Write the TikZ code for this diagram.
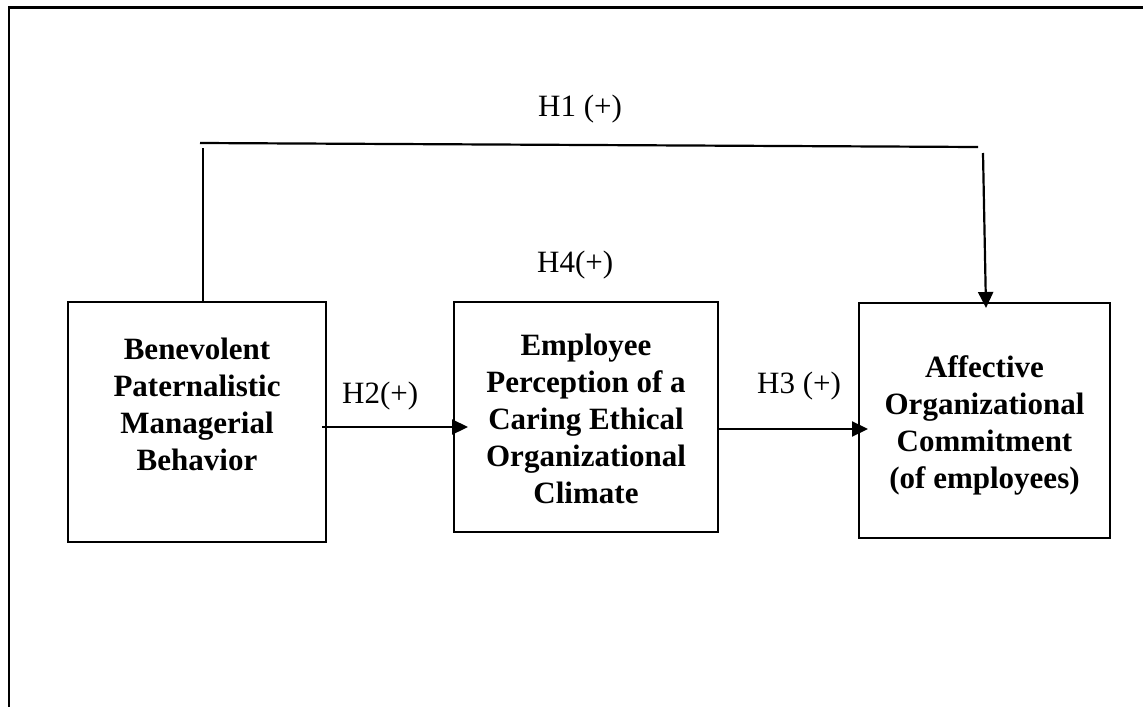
\documentclass[tikz,border=0pt]{standalone}
\usepackage{fontspec}
\setmainfont{Liberation Serif}
\usetikzlibrary{arrows.meta}
\begin{document}
\begin{tikzpicture}[x=1pt,y=-1pt,
  boxstyle/.style={draw=black,line width=2.2pt,inner sep=0pt},
  boxtext/.style={anchor=north,inner sep=0pt,align=center,font=\fontsize{31}{37}\selectfont\bfseries},
  hyplabel/.style={anchor=base west,inner sep=0pt,font=\fontsize{31}{37}\selectfont},
  conn/.style={line width=2.2pt},
  arr/.style={line width=2.2pt,-{Triangle[length=16pt,width=15pt]}}]
\useasboundingbox (0,0) rectangle (1143,707);
% outer frame (top and left only)
\coordinate (ftl) at (8.7,7.5);
\coordinate (ftr) at (1143,7.5);
\coordinate (fbl) at (8.7,707);
\draw[line width=2.4pt] (ftr) -- (ftl) -- (fbl);
% boxes
\node[boxstyle,minimum width=258pt,minimum height=240pt] (bpm) at (197,422) {};
\node[boxstyle,minimum width=264pt,minimum height=230pt] (epc) at (586,417) {};
\node[boxstyle,minimum width=251pt,minimum height=235pt] (aoc) at (984.5,420.5) {};
% box texts
\node[boxtext] (bpmt) at (197,333.1) {\strut Benevolent\\Paternalistic\\Managerial\\Behavior};
\node[boxtext] (epct) at (586,329.1) {\strut Employee\\Perception of a\\Caring Ethical\\Organizational\\Climate};
\node[boxtext] (aoct) at (984.5,351.1) {\strut Affective\\Organizational\\Commitment\\(of employees)};
% labels
\node[hyplabel] (h1) at (538,116) {H1 (+)};
\node[hyplabel] (h4) at (537,272) {H4(+)};
\node[hyplabel] (h2) at (342,403) {H2(+)};
\node[hyplabel] (h3) at (757,393) {H3 (+)};
% H1 path
\coordinate (h1up) at (203,148);
\coordinate (h1l) at (200,143);
\coordinate (h1r) at (978,147);
\coordinate (h1d) at (983,153);
\coordinate (h1tip) at (986,308);
\draw[conn] (bpm.north -| h1up) -- (h1up);
\draw[conn] (h1l) -- (h1r);
\draw[arr] (h1d) -- (h1tip);
% H2 and H3 arrows
\coordinate (h2s) at (322,427);
\coordinate (h2e) at (468,427);
\draw[arr] (h2s) -- (h2e);
\coordinate (h3e) at (868,429);
\draw[arr] (epc.east |- h3e) -- (h3e);
\end{tikzpicture}
\end{document}
